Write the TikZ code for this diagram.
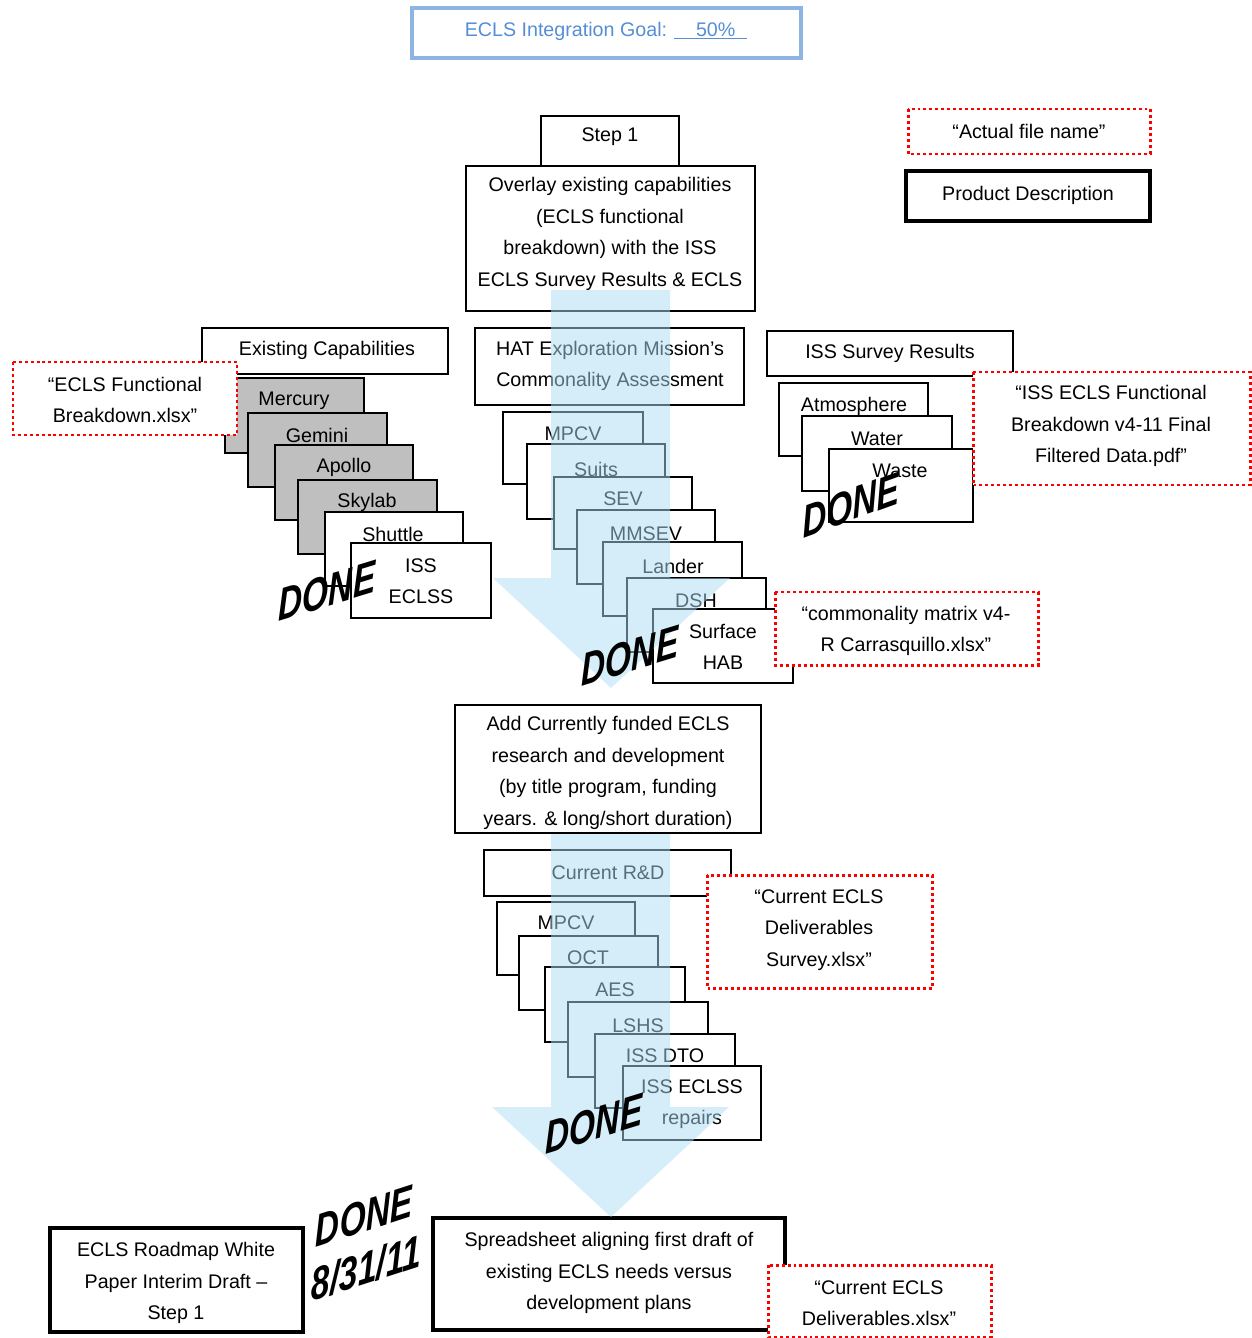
\documentclass[tikz,border=0pt]{standalone}
\usepackage{fontspec}
\setmainfont{Liberation Sans}
\newfontfamily\wordart{Liberation Sans}
\definecolor{goalblue}{RGB}{141,180,226}
\definecolor{goaltext}{RGB}{85,142,213}
\definecolor{flowblue}{RGB}{171,221,243}
\begin{document}
\begin{tikzpicture}[x=0.02cm,y=-0.02cm,
  card/.style={draw,fill=white,line width=0.6pt},
  oldcard/.style={draw,fill=black!25,line width=0.6pt},
  filename/.style={draw=red,fill=white,line width=1.7pt,dash pattern=on 1.7pt off 1.7pt},
  product/.style={draw,fill=white,line width=1.8pt},
  txt/.style={inner sep=0pt,align=center,font=\fontsize{11.2}{17.9}\selectfont},
  done/.style={inner sep=0pt,font=\wordart\bfseries\itshape\fontsize{20}{20}\selectfont,rotate=17,xslant=0.3},
  flow/.style={fill=flowblue,opacity=0.5}]
\useasboundingbox (0,0) rectangle (1251,1338);
\draw[draw=goalblue,line width=1.8pt] (412,8) rectangle (801,58);
\node[txt,text=goaltext] (goal) at (606,31) {ECLS Integration Goal: \underline{\hspace{1.1em}50\%\hspace{0.6em}}};
\draw[card] (541,116) rectangle (679,166);
\node[txt] (step) at (610,137) {Step 1};
\draw[card] (466,166) rectangle (755,311);
\node[txt] (overlay) at (610,234) {Overlay existing capabilities\\(ECLS functional\\breakdown) with the ISS\\ECLS Survey Results \& ECLS};
\draw[filename] (908,109) rectangle (1150,154);
\node[txt] (filekey) at (1029,131) {“Actual file name”};
\draw[product] (906,171) rectangle (1150,221);
\node[txt] (productkey) at (1028,195) {Product Description};
\draw[card] (202,328) rectangle (448,374);
\node[txt] (existing) at (327,350) {Existing Capabilities};
\draw[oldcard] (225,378) rectangle (364,453);
\node[txt] (mercury) at (294,401) {Mercury};
\draw[oldcard] (248,413) rectangle (387,487);
\node[txt] (gemini) at (317,435) {Gemini};
\draw[oldcard] (275,445) rectangle (413,520);
\node[txt] (apollo) at (344,467) {Apollo};
\draw[oldcard] (298,480) rectangle (437,554);
\node[txt] (skylab) at (367,502) {Skylab};
\draw[card] (325,512) rectangle (463,586);
\node[txt] (shuttle) at (393,534) {Shuttle};
\draw[card] (351,543) rectangle (491,618);
\node[txt] (isseclss) at (421,581) {ISS\\ECLSS};
\draw[card] (475,328) rectangle (744,405);
\node[txt] (hat) at (610,366) {HAT Exploration Mission’s\\Commonality Assessment};
\draw[card] (503,412) rectangle (643,484);
\node[txt] (mpcv) at (573,434) {MPCV};
\draw[card] (527,444) rectangle (665,519);
\node[txt] (suits) at (596,469) {Suits};
\draw[card] (554,477) rectangle (692,549);
\node[txt] (sev) at (623,499) {SEV};
\draw[card] (577,510) rectangle (715,584);
\node[txt] (mmsev) at (646,534) {MMSEV};
\draw[card] (603,542) rectangle (742,616);
\node[txt] (lander) at (673,566) {Lander};
\draw[card] (627,578) rectangle (766,652);
\node[txt] (dsh) at (696,601) {DSH};
\draw[card] (653,609) rectangle (793,683);
\node[txt] (surfacehab) at (723,647) {Surface\\HAB};
\draw[card] (767,331) rectangle (1013,376);
\node[txt] (isssurvey) at (890,353) {ISS Survey Results};
\draw[card] (779,383) rectangle (928,456);
\node[txt] (atmosphere) at (854,406) {Atmosphere};
\draw[card] (802,416) rectangle (952,491);
\node[txt] (water) at (877,439) {Water};
\draw[card] (829,449) rectangle (973,522);
\node[txt] (waste) at (900,471) {Waste};
\draw[card] (455,705) rectangle (761,833);
\begin{scope}
\clip (455,705) rectangle (761,833);
\node[txt] (funded) at (608,773) {Add Currently funded ECLS\\research and development\\(by title program, funding\\years. \& long/short duration)};
\end{scope}
\draw[card] (484,850) rectangle (731,896);
\node[txt] (currentrd) at (608,873) {Current R\&D};
\draw[card] (497,902) rectangle (635,975);
\node[txt] (mpcvrd) at (566,923) {MPCV};
\draw[card] (519,936) rectangle (658,1010);
\node[txt] (oct) at (588,958) {OCT};
\draw[card] (545,967) rectangle (685,1042);
\node[txt] (aes) at (615,990) {AES};
\draw[card] (568,1002) rectangle (708,1077);
\node[txt] (lshs) at (638,1026) {LSHS};
\draw[card] (595,1034) rectangle (735,1108);
\node[txt] (issdto) at (665,1056) {ISS DTO};
\draw[card] (623,1066) rectangle (761,1140);
\node[txt] (repairs) at (692,1104) {ISS ECLSS\\repairs};
\draw[product] (50,1228) rectangle (303,1332);
\node[txt] (roadmap) at (176,1283) {ECLS Roadmap White\\Paper Interim Draft --\\Step 1};
\draw[product] (433,1218) rectangle (785,1330);
\node[txt] (spreadsheet) at (609,1273) {Spreadsheet aligning first draft of\\existing ECLS needs versus\\development plans};
\fill[flow] (551,290) -- (670,290) -- (670,578) -- (730,578) -- (611,688) -- (493,578) -- (551,578) -- cycle;
\fill[flow] (551,834) -- (670,834) -- (670,1107) -- (729,1107) -- (611,1217) -- (492,1107) -- (551,1107) -- cycle;
\draw[filename] (13,362) rectangle (237,435);
\node[txt] (eclsfile) at (125,400) {“ECLS Functional\\Breakdown.xlsx”};
\draw[filename] (973,372) rectangle (1250,485);
\node[txt] (issfile) at (1111,426) {“ISS ECLS Functional\\Breakdown v4-11 Final\\Filtered Data.pdf”};
\draw[filename] (775,592) rectangle (1038,665);
\node[txt] (matrixfile) at (906,631) {“commonality matrix v4-\\R Carrasquillo.xlsx”};
\draw[filename] (707,875) rectangle (932,988);
\node[txt] (surveyfile) at (819,930) {“Current ECLS\\Deliverables\\Survey.xlsx”};
\draw[filename] (768,1265) rectangle (991,1337);
\node[txt] (delivfile) at (879,1303) {“Current ECLS\\Deliverables.xlsx”};
\node[done] (done1) at (327,591) {\scalebox{1}[1.25]{DONE}};
\node[done] (done2) at (630,656) {\scalebox{1}[1.25]{DONE}};
\node[done,rotate=3] (done3) at (851,505) {\scalebox{1}[1.25]{DONE}};
\node[done] (done4) at (594,1124) {\scalebox{1}[1.25]{DONE}};
\node[done,rotate=1] (done5) at (364,1216) {\scalebox{1}[1.25]{DONE}};
\node[done,rotate=1] (donedate) at (366,1268) {\scalebox{1}[1.25]{8/31/11}};
\end{tikzpicture}
\end{document}
